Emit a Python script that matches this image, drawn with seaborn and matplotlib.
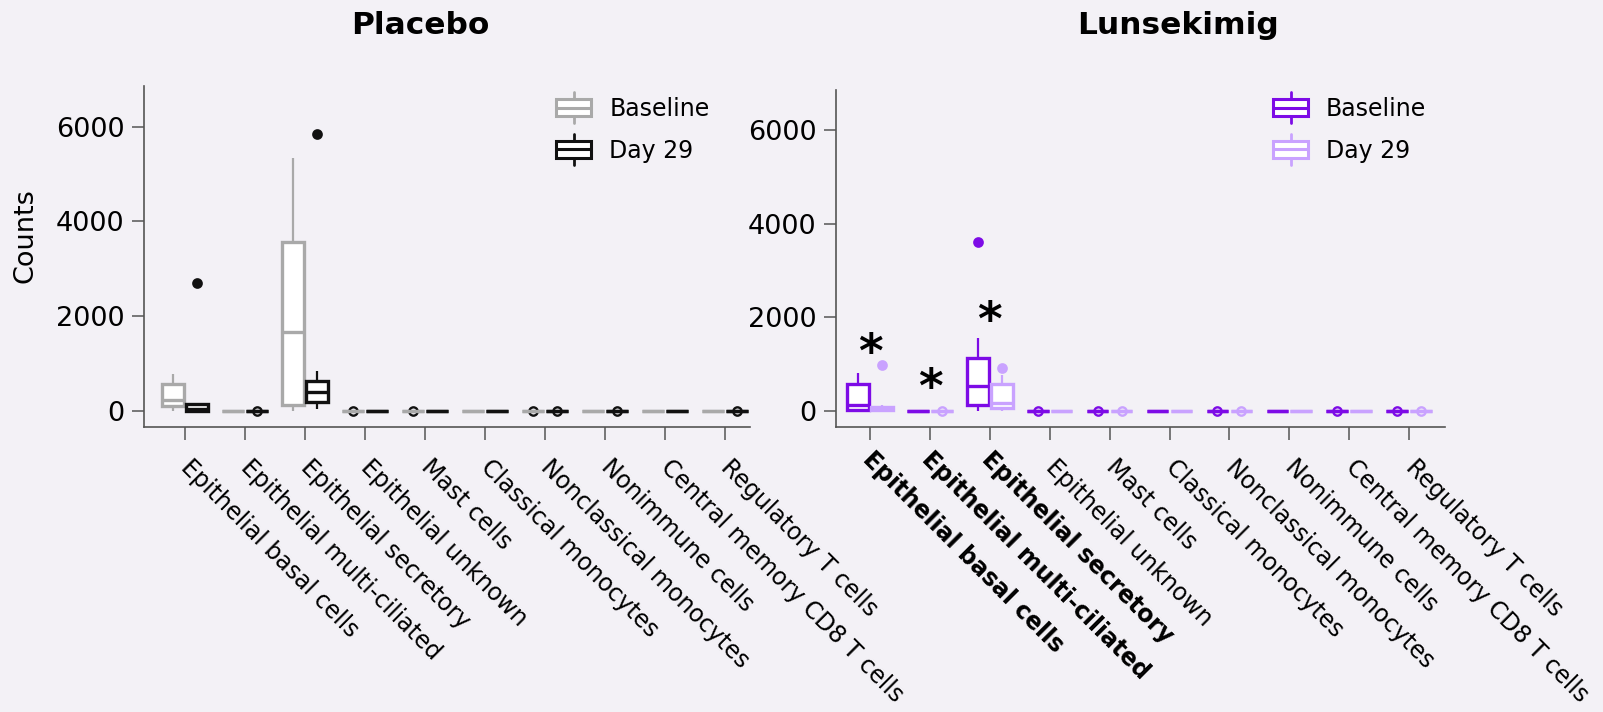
import matplotlib
matplotlib.use("Agg")
import matplotlib.pyplot as plt
import matplotlib.transforms as mtransforms
import numpy as np
import pandas as pd
import seaborn as sns
from matplotlib.legend_handler import HandlerBase
from matplotlib.patches import Patch, Rectangle
from matplotlib.lines import Line2D

# --- data (counts per subject, 9 subjects per box) ---
cells = ["Epithelial basal cells", "Epithelial multi-ciliated", "Epithelial secretory",
         "Epithelial unknown", "Mast cells", "Classical monocytes",
         "Nonclassical monocytes", "Nonimmune cells", "Central memory CD8 T cells",
         "Regulatory T cells"]
timepoints = ["Baseline", "Day 29"]

placebo_baseline = [
    [0, 60, 106, 150, 226, 400, 558, 700, 769],
    [0, 0, 0, 0, 0, 0, 0, 0, 0],
    [0, 60, 120, 900, 1656, 2600, 3571, 4500, 5333],
    [0, 0, 0, 0, 0, 0, 0, 0, 4],
    [0, 0, 0, 0, 0, 0, 0, 0, 2],
    [0, 0, 0, 0, 0, 0, 0, 0, 0],
    [0, 0, 0, 0, 0, 0, 0, 0, 3],
    [0, 0, 0, 0, 0, 0, 0, 0, 0],
    [0, 0, 0, 0, 0, 0, 0, 0, 0],
    [0, 0, 0, 0, 0, 0, 0, 0, 0],
]
placebo_day29 = [
    [0, 0, 0, 8, 30, 95, 150, 156, 2705],
    [0, 0, 0, 0, 0, 0, 0, 0, 3],
    [50, 120, 190, 300, 389, 500, 634, 839, 5840],
    [0, 0, 0, 0, 0, 0, 0, 0, 0],
    [0, 0, 0, 0, 0, 0, 0, 0, 0],
    [0, 0, 0, 0, 0, 0, 0, 0, 0],
    [0, 0, 0, 0, 0, 0, 0, 0, 5],
    [0, 0, 0, 0, 0, 0, 0, 0, 2],
    [0, 0, 0, 0, 0, 0, 0, 0, 0],
    [0, 0, 0, 0, 0, 0, 0, 0, 1],
]
lunse_baseline = [
    [0, 0, 20, 60, 125, 300, 577, 700, 819],
    [0, 0, 0, 0, 0, 0, 0, 0, 0],
    [0, 60, 128, 350, 541, 800, 1125, 1553, 3604],
    [0, 0, 0, 0, 0, 0, 0, 0, 3],
    [0, 0, 0, 0, 0, 0, 0, 0, 2],
    [0, 0, 0, 0, 0, 0, 0, 0, 0],
    [0, 0, 0, 0, 0, 0, 0, 0, 4],
    [0, 0, 0, 0, 0, 0, 0, 0, 0],
    [0, 0, 0, 0, 0, 0, 0, 0, 2],
    [0, 0, 0, 0, 0, 0, 0, 0, 3],
]
lunse_day29 = [
    [0, 5, 21, 30, 40, 60, 93, 130, 983],
    [0, 0, 0, 0, 0, 0, 0, 0, 3],
    [0, 30, 57, 100, 164, 350, 577, 769, 912],
    [0, 0, 0, 0, 0, 0, 0, 0, 0],
    [0, 0, 0, 0, 0, 0, 0, 0, 2],
    [0, 0, 0, 0, 0, 0, 0, 0, 0],
    [0, 0, 0, 0, 0, 0, 0, 0, 3],
    [0, 0, 0, 0, 0, 0, 0, 0, 0],
    [0, 0, 0, 0, 0, 0, 0, 0, 0],
    [0, 0, 0, 0, 0, 0, 0, 0, 2],
]
# significant cell types in the Lunsekimig arm and the height of their star
sig_cells = ["Epithelial basal cells", "Epithelial multi-ciliated", "Epithelial secretory"]
sig_heights = [940, 190, 1620]

rows = []
for arm, series in [("Placebo", [placebo_baseline, placebo_day29]),
                    ("Lunsekimig", [lunse_baseline, lunse_day29])]:
    for tp, per_cell in zip(timepoints, series):
        for cell, vals in zip(cells, per_cell):
            for v in vals:
                rows.append({"arm": arm, "timepoint": tp, "cell": cell, "count": v})
df = pd.DataFrame(rows)

BG = "#F3F1F6"
sns.set_style("ticks", {"axes.facecolor": BG, "figure.facecolor": BG})
plt.rcParams["font.family"] = ["DejaVu Sans"]
plt.rcParams["text.color"] = "black"
plt.rcParams["axes.labelcolor"] = "black"


class BoxHandler(HandlerBase):
    # mini box-and-whisker glyph for the legend
    def create_artists(self, legend, orig_handle, xdescent, ydescent, width, height,
                       fontsize, trans):
        c = orig_handle.get_edgecolor()
        x0, y0 = -xdescent, -ydescent
        ext = 0.4 * height
        wt = Line2D([x0 + width / 2] * 2, [y0 + height, y0 + height + ext], color=c, lw=2, transform=trans)
        wb = Line2D([x0 + width / 2] * 2, [y0 - ext, y0], color=c, lw=2, transform=trans)
        box = Rectangle((x0, y0), width, height, facecolor="white", edgecolor=c, lw=2.2, transform=trans)
        med = Line2D([x0, x0 + width], [y0 + height / 2] * 2, color=c, lw=2.2, transform=trans)
        return [wt, wb, box, med]


W, H = 1603, 712
fig = plt.figure(figsize=(W / 100, H / 100), dpi=100)
ax1 = fig.add_axes([144 / W, 1 - 427 / H, 606 / W, 341 / H])
ax2 = fig.add_axes([836 / W, 1 - 427 / H, 609 / W, 337 / H])

panels = [
    (ax1, "Placebo", {"Baseline": "#A9A9A9", "Day 29": "#111111"},
     {"Baseline": "#111111", "Day 29": "#111111"}, (-0.683, 9.42), 420, 556),
    (ax2, "Lunsekimig", {"Baseline": "#7D0BE6", "Day 29": "#C9A2FF"},
     {"Baseline": "#7D0BE6", "Day 29": "#C9A2FF"}, (-0.569, 9.6), 1178, 1273),
]

for ax, arm, colors, flier_colors, xlim, title_x, legend_x in panels:
    sub = df[df["arm"] == arm]
    for tp in timepoints:
        sns.boxplot(data=sub[sub["timepoint"] == tp], x="cell", y="count",
                    hue="timepoint", hue_order=timepoints, order=cells, dodge=True,
                    palette=colors, fill=True, linecolor=colors[tp], linewidth=2.4,
                    width=0.8, gap=0.1, whis=0.6, showcaps=False,
                    boxprops=dict(facecolor="white", linewidth=2.4),
                    medianprops=dict(linewidth=2.4),
                    whiskerprops=dict(linewidth=1.6),
                    flierprops=dict(marker="o", markersize=6, markeredgewidth=1.7,
                                    markerfacecolor=flier_colors[tp],
                                    markeredgecolor=flier_colors[tp]),
                    legend=False, ax=ax)

    # fliers sitting at zero are drawn as open rings
    for ln in ax.lines:
        if ln.get_marker() == "o":
            y = np.asarray(ln.get_ydata(), dtype=float)
            if y.size and np.all(y < 100):
                ln.set_markerfacecolor("none")

    ax.set_xlim(*xlim)
    ax.set_ylim(-340, 6860)
    ax.set_yticks([0, 2000, 4000, 6000])
    ax.set_xlabel("")
    ax.set_ylabel("")
    ax.set_xticks(range(len(cells)))
    ax.set_xticklabels(cells, rotation=-45, ha="left", va="center",
                       rotation_mode="anchor", fontsize=17)
    ax.tick_params(axis="y", labelsize=19.5, length=9, width=1.1, color="#555555",
                   labelcolor="black", pad=5)
    ax.tick_params(axis="x", length=9, width=1.1, color="#555555",
                   labelcolor="black", pad=17)
    for s in ["left", "bottom"]:
        ax.spines[s].set_color("#555555")
        ax.spines[s].set_linewidth(1.2)
    sns.despine(ax=ax)

    fig.text(title_x / W, 1 - 25 / H, arm, fontsize=22.5, fontweight="bold",
             ha="center", va="center", color="black")

    handles = [Patch(edgecolor=colors[tp], facecolor="white", label=tp) for tp in timepoints]
    ax.legend(handles=handles, handler_map={Patch: BoxHandler()}, frameon=False,
              loc="upper left", bbox_to_anchor=(legend_x / W, 1 - 97 / H),
              bbox_transform=fig.transFigure, fontsize=17, borderpad=0,
              borderaxespad=0, handlelength=1.5, handleheight=0.75,
              handletextpad=0.75, labelspacing=0.75)

ax1.set_ylabel("Counts", fontsize=19.5)
ax1.yaxis.set_label_coords(-0.174, 0.56)

# bold labels for the significant cell types sit slightly higher
bold_shift = mtransforms.ScaledTranslation(-0.04, 0.08, fig.dpi_scale_trans)
for lab in ax2.get_xticklabels():
    if lab.get_text() in sig_cells:
        lab.set_fontweight("bold")
        lab.set_transform(lab.get_transform() + bold_shift)

for cell, h in zip(sig_cells, sig_heights):
    ax2.text(cells.index(cell), h, "*", fontsize=34, fontweight="bold",
             ha="center", va="baseline")

fig.savefig("out.png", dpi=100, facecolor=BG)
